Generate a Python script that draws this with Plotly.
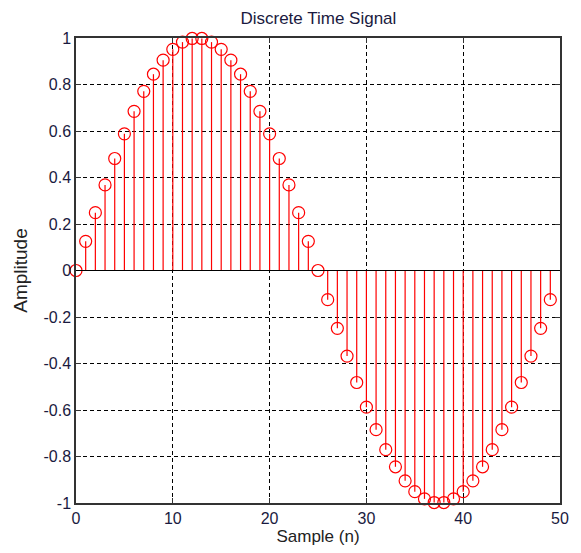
import plotly.graph_objects as go

# Sample indices and amplitudes of one period of the discrete signal
n = list(range(50))
amplitude = [
    0.0, 0.1253, 0.2487, 0.3681, 0.4818, 0.5878, 0.6845, 0.7705, 0.8443, 0.9048,
    0.9511, 0.9823, 0.9980, 0.9980, 0.9823, 0.9511, 0.9048, 0.8443, 0.7705, 0.6845,
    0.5878, 0.4818, 0.3681, 0.2487, 0.1253, 0.0, -0.1253, -0.2487, -0.3681, -0.4818,
    -0.5878, -0.6845, -0.7705, -0.8443, -0.9048, -0.9511, -0.9823, -0.9980, -0.9980, -0.9823,
    -0.9511, -0.9048, -0.8443, -0.7705, -0.6845, -0.5878, -0.4818, -0.3681, -0.2487, -0.1253,
]
x_ticks = [0, 10, 20, 30, 40, 50]
y_ticks = [-1, -0.8, -0.6, -0.4, -0.2, 0, 0.2, 0.4, 0.6, 0.8, 1]
y_tick_text = ["-1", "-0.8", "-0.6", "-0.4", "-0.2", "0", "0.2", "0.4", "0.6", "0.8", "1"]

RED = "#ff0000"
FONT = "Liberation Sans, Arial, sans-serif"
TEXT_COLOR = "#1a1a40"

# Stems: vertical segments from the baseline to each sample
stem_x, stem_y = [], []
for xi, yi in zip(n, amplitude):
    stem_x += [xi, xi, None]
    stem_y += [0, yi, None]

fig = go.Figure()
fig.add_trace(go.Scatter(
    x=stem_x, y=stem_y, mode="lines",
    line=dict(color=RED, width=1.2), hoverinfo="skip", showlegend=False,
))
fig.add_trace(go.Scatter(
    x=n, y=amplitude, mode="markers",
    marker=dict(symbol="circle-open", size=12, color=RED, line=dict(width=1.2, color=RED)),
    showlegend=False, cliponaxis=False,
))

# Baseline at zero across the full axis width
fig.add_shape(type="line", xref="x domain", yref="y", x0=0, x1=1, y0=0, y1=0,
              line=dict(color="black", width=1), layer="above")

axis_common = dict(
    showline=True, linecolor="#333333", linewidth=1.5, mirror="ticks",
    ticks="inside", ticklen=5, tickcolor="#333333",
    showgrid=True, gridcolor="black", gridwidth=1, griddash="4px,3px",
    zeroline=False,
    tickfont=dict(family=FONT, size=16, color=TEXT_COLOR),
)

fig.update_layout(
    width=581, height=553,
    margin=dict(l=76, r=16, t=38, b=50),
    paper_bgcolor="white", plot_bgcolor="white",
    font=dict(family=FONT, color="#222222"),
    title=dict(text="Discrete Time Signal", x=0.548, xanchor="center", y=0.967, yanchor="middle",
               font=dict(family=FONT, size=17, color=TEXT_COLOR)),
    xaxis=dict(range=[0, 50], tickvals=x_ticks,
               title=dict(text="Sample (n)", font=dict(family=FONT, size=17, color="#222222"), standoff=2),
               **axis_common),
    yaxis=dict(range=[-1, 1], tickvals=y_ticks, ticktext=y_tick_text,
               title=dict(text="Amplitude", font=dict(family=FONT, size=19, color="#222222"), standoff=11),
               **axis_common),
)

fig.write_html("out.html")
